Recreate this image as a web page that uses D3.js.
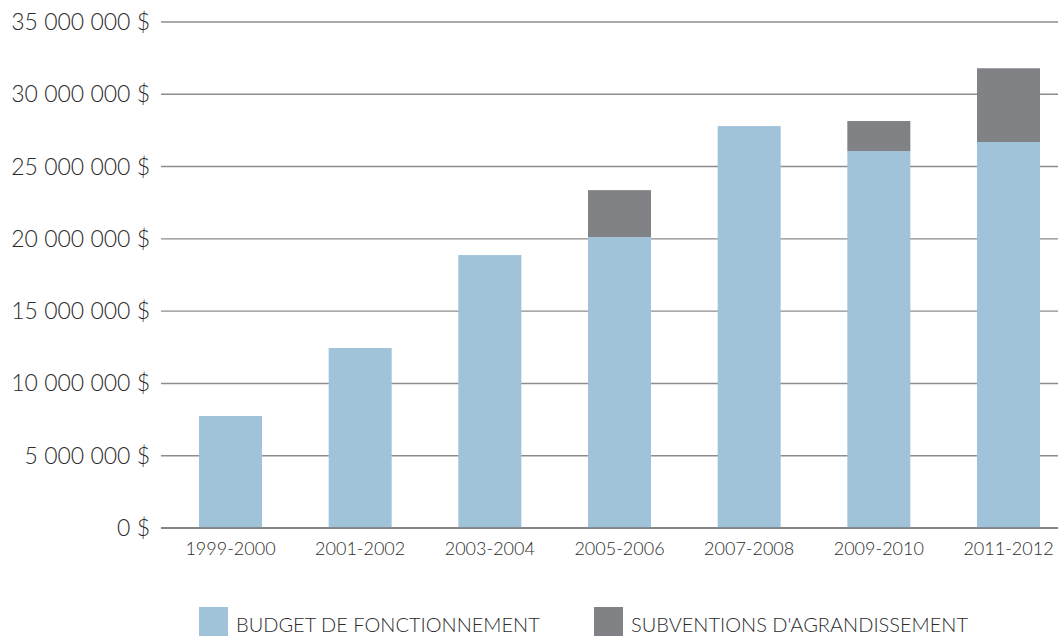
<!DOCTYPE html>
<html>
<head>
<meta charset="utf-8">
<script src="https://cdn.jsdelivr.net/npm/d3@7"></script>
<style>
  body { margin: 0; background: #fff; }
  text { font-family: Lato, "Open Sans", sans-serif; fill: #2b2b2b; }
</style>
</head>
<body>
<div id="chart"></div>
<script>
// values
const periods = ["1999-2000", "2001-2002", "2003-2004", "2005-2006", "2007-2008", "2009-2010", "2011-2012"];
const budget = [7750000, 12450000, 18880000, 20120000, 27800000, 26070000, 26700000];
const subventions = [0, 0, 0, 3250000, 0, 2080000, 5100000];
const yTicks = [0, 5000000, 10000000, 15000000, 20000000, 25000000, 30000000, 35000000];
const seriesNames = ["BUDGET DE FONCTIONNEMENT", "SUBVENTIONS D'AGRANDISSEMENT"];

const colors = ["#a1c3da", "#818286"];

const width = 1058, height = 636;
const margins = { top: 22, right: 0, bottom: 108, left: 161 };

const svg = d3.select("#chart")
    .append("svg")
    .attr("width", width)
    .attr("height", height);

const x = d3.scaleBand()
    .domain(periods)
    .range([margins.left, 1078])
    .paddingInner(0.514)
    .paddingOuter(0.293);

const y = d3.scaleLinear()
    .domain([0, 35000000])
    .range([height - margins.bottom, margins.top]);

const fmt = d3.formatLocale({ decimal: ",", thousands: " ", grouping: [3], currency: ["", " $"] }).format(",");

// gridlines
svg.append("g")
    .selectAll("line")
    .data(yTicks)
    .join("line")
    .attr("x1", margins.left)
    .attr("x2", width)
    .attr("y1", d => y(d))
    .attr("y2", d => y(d))
    .attr("stroke", "#8c8c8c")
    .attr("stroke-width", 1.4);

// y labels
svg.append("g")
    .selectAll("text")
    .data(yTicks)
    .join("text")
    .attr("x", 150)
    .attr("y", d => y(d))
    .attr("dy", "0.35em")
    .attr("text-anchor", "end")
    .style("font-size", "23px")
    .style("font-weight", 300)
    .text(d => fmt(d) + " $");

// stacked bars
const rows = periods.map((p, i) => ({ period: p, budget: budget[i], subventions: subventions[i] }));
const stack = d3.stack().keys(["budget", "subventions"])(rows);

svg.append("g")
    .selectAll("g")
    .data(stack)
    .join("g")
    .attr("fill", (d, i) => colors[i])
    .selectAll("rect")
    .data(d => d.filter(s => s[1] > s[0]))
    .join("rect")
    .attr("x", d => x(d.data.period))
    .attr("y", d => y(d[1]))
    .attr("width", x.bandwidth())
    .attr("height", d => y(d[0]) - y(d[1]));

// baseline
svg.append("line")
    .attr("x1", margins.left)
    .attr("x2", width)
    .attr("y1", y(0))
    .attr("y2", y(0))
    .attr("stroke", "#7a7a7a")
    .attr("stroke-width", 1.6);

// x labels
svg.append("g")
    .selectAll("text")
    .data(periods)
    .join("text")
    .attr("x", d => x(d) + x.bandwidth() / 2)
    .attr("y", 555)
    .attr("text-anchor", "middle")
    .style("font-size", "18px")
    .style("font-weight", 300)
    .text(d => d);

// legend
const legendX = [199, 594];
const legend = svg.append("g")
    .selectAll("g")
    .data(seriesNames)
    .join("g")
    .attr("transform", (d, i) => `translate(${legendX[i]},607)`);

legend.append("rect")
    .attr("width", 29)
    .attr("height", 29)
    .attr("fill", (d, i) => colors[i]);

legend.append("text")
    .attr("x", (d, i) => i === 0 ? 37 : 37)
    .attr("y", 25)
    .style("font-size", "20px")
    .style("font-weight", 300)
    .text(d => d);
</script>
</body>
</html>
